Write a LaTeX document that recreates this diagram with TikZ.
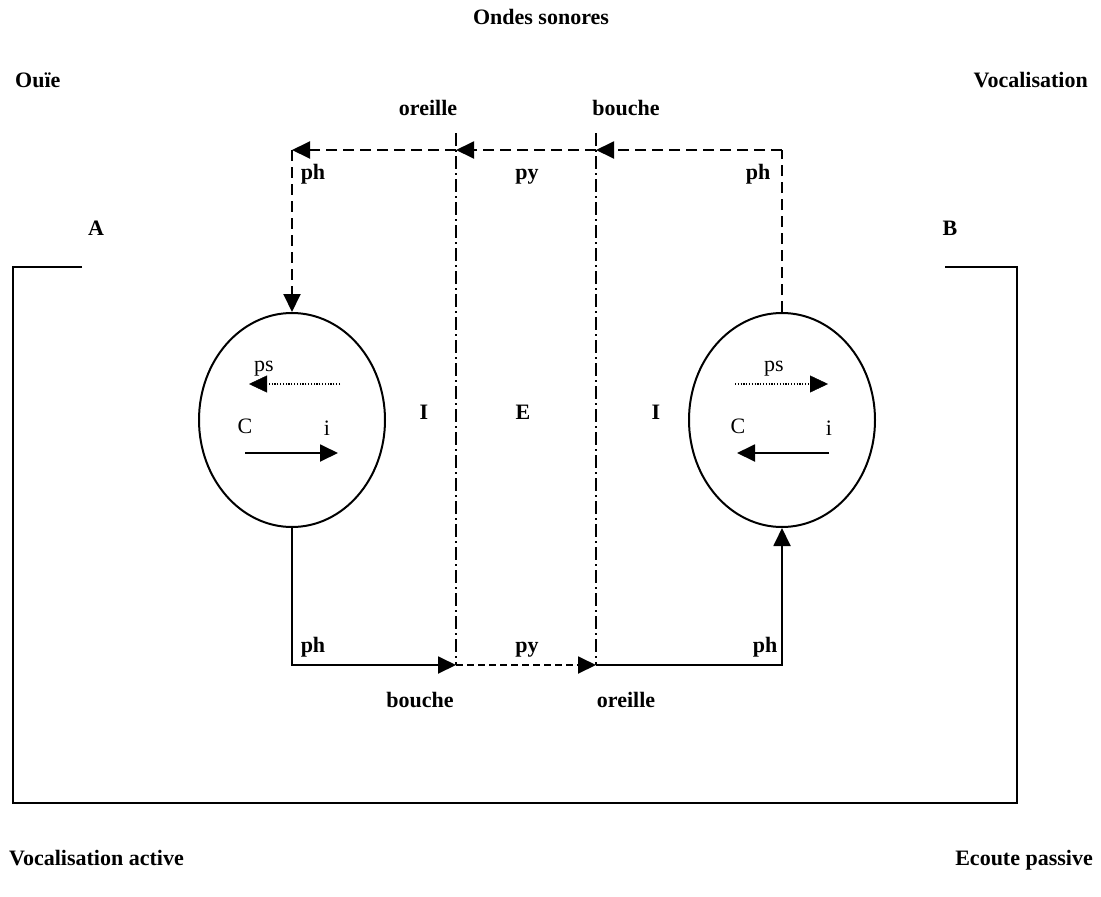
\documentclass[tikz,border=0pt]{standalone}
\usepackage{fontspec}
\setmainfont{Liberation Serif}
\usetikzlibrary{arrows.meta,shapes.geometric}
\begin{document}
\begin{tikzpicture}[x=1pt,y=-1pt,
  lw/.style={line width=1.9pt},
  tip/.style={-{Triangle[length=18pt,width=17pt]}},
  tdash/.style={lw,dash pattern=on 11pt off 6pt},
  bdash/.style={lw,dash pattern=on 7pt off 4pt},
  ddot/.style={line width=1.4pt,dash pattern=on 13pt off 4pt on 2pt off 4pt},
  dotl/.style={line width=1.2pt,dash pattern=on 1.2pt off 1.6pt},
  brain/.style={ellipse,draw,line width=2pt,minimum width=186pt,minimum height=214pt,inner sep=0pt},
  lbl/.style={font=\fontsize{22}{26}\selectfont\bfseries,inner sep=0pt},
  rlbl/.style={font=\fontsize{22}{26}\selectfont,inner sep=0pt}]
\useasboundingbox (0,0) rectangle (1101,897);
% brains
\node[brain] (A) at (292,420) {};
\node[brain] (B) at (782,420) {};
% coordinates
\coordinate (tl) at (292,150);
\coordinate (tm1) at (456,150);
\coordinate (tm2) at (596,150);
\coordinate (tr) at (782,150);
\coordinate (bl) at (292,665);
\coordinate (bm1) at (456,665);
\coordinate (bm2) at (596,665);
\coordinate (br) at (782,665);
\coordinate (v1t) at (456,133);
\coordinate (v1b) at (456,665);
\coordinate (v2t) at (596,133);
\coordinate (v2b) at (596,665);
% dash-dot boundaries
\draw[ddot] (v1t) -- (v1b);
\draw[ddot] (v2t) -- (v2b);
% top path (dashed)
\draw[tdash] (B.north) -- (tr);
\draw[tdash,tip] (tr) -- (tm2);
\draw[tdash,tip] (tm2) -- (tm1);
\draw[tdash,tip] (tm1) -- (tl);
\draw[tdash,tip] (tl) -- (A.north);
% bottom path
\draw[lw,tip] (A.south) -- (bl) -- (bm1);
\draw[bdash,tip] (bm1) -- (bm2);
\draw[lw,tip] (bm2) -- (br) -- (B.south);
% outer frame
\coordinate (fa) at (82,267);
\coordinate (fb) at (945,267);
\draw[lw] (fa) -- (13,267) -- (13,803) -- (1017,803) -- (1017,267) -- (fb);
% inside A
\coordinate (a1) at (340,384);
\coordinate (a2) at (249,384);
\draw[dotl] (a1) -- (266,384);
\draw[tip] (266,384) -- (a2);
\coordinate (a3) at (245,453);
\coordinate (a4) at (338,453);
\draw[lw,tip] (a3) -- (a4);
\node[rlbl] (psA) at (264,369) {ps};
\node[rlbl] (CA) at (245,426) {C};
\node[rlbl] (iA) at (327,428) {i};
% inside B
\coordinate (b1) at (735,384);
\coordinate (b2) at (828,384);
\draw[dotl] (b1) -- (811,384);
\draw[tip] (811,384) -- (b2);
\coordinate (b3) at (829,453);
\coordinate (b4) at (737,453);
\draw[lw,tip] (b3) -- (b4);
\node[rlbl] (psB) at (774,369) {ps};
\node[rlbl] (CB) at (738,426) {C};
\node[rlbl] (iB) at (829,428) {i};
% labels
\node[lbl] (ondes) at (541,17) {Ondes sonores};
\node[lbl,anchor=west] (ouie) at (15,80) {Ouïe};
\node[lbl,anchor=east] (voc) at (1088,80) {Vocalisation};
\node[lbl] (oreT) at (428,108) {oreille};
\node[lbl] (bouT) at (626,108) {bouche};
\node[lbl,anchor=base] (phT1) at (313,179) {ph};
\node[lbl,anchor=base] (pyT) at (527,179) {py};
\node[lbl,anchor=base] (phT2) at (758,179) {ph};
\node[lbl] (lA) at (96,228) {A};
\node[lbl] (lB) at (950,228) {B};
\node[lbl] (I1) at (424,412) {I};
\node[lbl] (E) at (523,412) {E};
\node[lbl] (I2) at (656,412) {I};
\node[lbl,anchor=base] (phB1) at (313,652) {ph};
\node[lbl,anchor=base] (pyB) at (527,652) {py};
\node[lbl,anchor=base] (phB2) at (765,652) {ph};
\node[lbl] (bouB) at (420,700) {bouche};
\node[lbl] (oreB) at (626,700) {oreille};
\node[lbl,anchor=base west] (va) at (9,865) {Vocalisation active};
\node[lbl,anchor=base east] (ep) at (1093,865) {Ecoute passive};
\end{tikzpicture}
\end{document}
